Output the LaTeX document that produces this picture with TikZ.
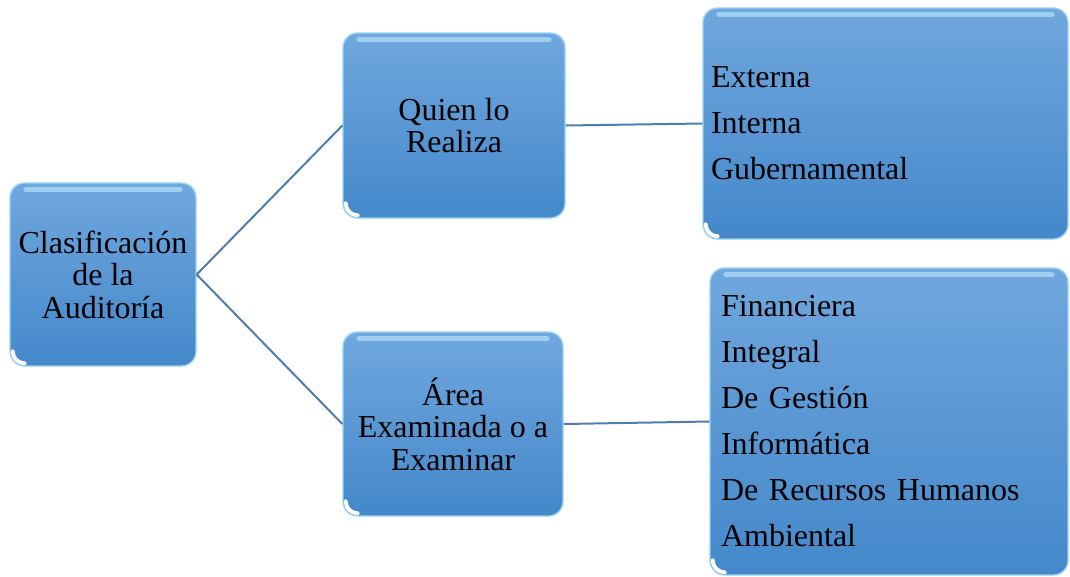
\documentclass[tikz,border=0pt]{standalone}
\usepackage{fontspec}
\setmainfont{Liberation Serif}
\usetikzlibrary{calc}
\definecolor{boxtop}{RGB}{112,167,222}
\definecolor{boxbottom}{RGB}{68,136,202}
\definecolor{boxrim}{RGB}{150,212,247}
\definecolor{linkblue}{RGB}{78,126,176}
\tikzset{
  box/.style={rounded corners=11pt, top color=boxtop, bottom color=boxbottom,
    draw=boxrim, line width=1pt, align=center, inner sep=0pt,
    font=\fontsize{24}{24.4}\selectfont,
    path picture={
      \draw[boxrim!70!white, line width=4pt, line cap=round, opacity=0.7]
        ([shift={(12pt,-5pt)}]path picture bounding box.north west) --
        ([shift={(-12pt,-5pt)}]path picture bounding box.north east);
      \draw[white, line width=3pt, line cap=round]
        ([shift={(2pt,11pt)}]path picture bounding box.south west)
        arc (180:270:9pt);
    }},
  listbox/.style={box, align=left, font=\fontsize{24}{34.5}\selectfont},
  link/.style={draw=linkblue, line width=1.5pt},
}
\begin{document}
\begin{tikzpicture}[x=0.75pt, y=-0.75pt]
  \useasboundingbox (0,0) rectangle (1070,576);

  \node[box, minimum width=0.75*186pt, minimum height=0.75*183pt] (clas) at (103,274.5)
    {Clasificación\\de la\\Auditoría};
  \node[box, minimum width=0.75*222pt, minimum height=0.75*185pt] (quien) at (454,125.5)
    {Quien lo\\Realiza};
  \node[box, minimum width=0.75*220pt, minimum height=0.75*184pt] (area) at (453,424)
    {Área\\Examinada o a\\Examinar};
  \node[listbox, text width=0.75*349pt, inner xsep=6pt, minimum height=0.75*231pt] (quienlist) at (885.5,123.5)
    {Externa\\Interna\\Gubernamental};
  \node[listbox, text width=0.75*336pt, inner xsep=8.25pt, minimum height=0.75*307pt] (arealist) at (889,421.5)
    {Financiera\\Integral\\De Gestión\\Informática\\De Recursos Humanos\\Ambiental};

  \draw[link] (clas.east) -- (quien.west);
  \draw[link] (clas.east) -- (area.west);
  \draw[link] (quien.east) -- (quienlist.west);
  \draw[link] (area.east) -- (arealist.west);
\end{tikzpicture}
\end{document}
